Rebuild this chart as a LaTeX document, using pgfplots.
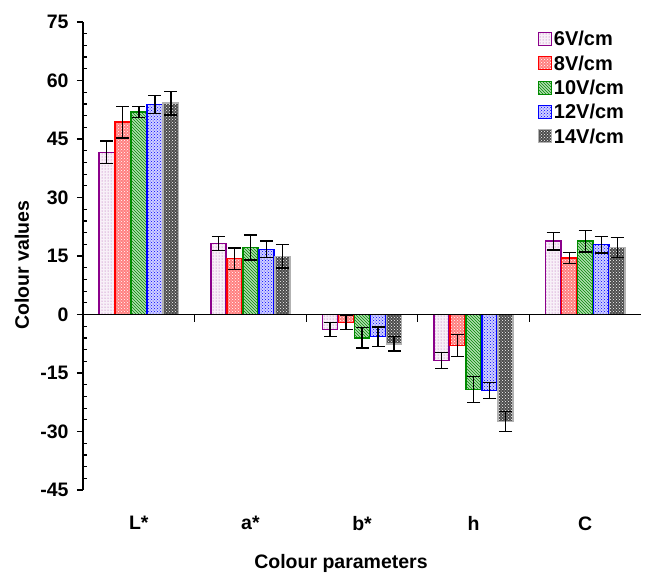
\documentclass[border=0pt]{standalone}
\usepackage{fontspec}
\setmainfont{Liberation Sans}
\usepackage{pgfplots}
\usepackage{pgfplotstable}
\pgfplotsset{compat=1.18}
\usetikzlibrary{patterns}
\newcommand\lab{\fontsize{19.5}{22}\selectfont\bfseries}
\newcommand\leg{\fontsize{20}{22}\selectfont\bfseries}
\definecolor{cpurple}{HTML}{8B008B}
\definecolor{cgreen}{HTML}{008A00}

\pgfplotstableread{
x y e
0 41.6 2.9
1 18.2 1.8
2 -3.9 1.8
3 -11.8 2.1
4 18.8 2.3
}\sixV
\pgfplotstableread{
x y e
0 49.3 4.0
1 14.3 2.8
2 -2.0 1.9
3 -7.9 2.8
4 14.5 1.4
}\eightV
\pgfplotstableread{
x y e
0 51.9 1.4
1 17.2 3.2
2 -6.0 2.6
3 -19.2 3.3
4 18.8 2.8
}\tenV
\pgfplotstableread{
x y e
0 53.8 2.3
1 16.7 2.1
2 -5.7 2.5
3 -19.5 2.0
4 17.9 2.1
}\twelveV
\pgfplotstableread{
x y e
0 54.2 3.0
1 14.9 3.0
2 -7.5 1.9
3 -27.4 2.6
4 17.2 2.6
}\fourteenV

\begin{document}
\begin{tikzpicture}
\path[use as bounding box] (-83pt,-84pt) rectangle (567pt,490pt);
\begin{axis}[
  at={(0pt,0pt)}, anchor=south west,
  scale only axis, width=558pt, height=468pt,
  ybar=0.8pt, bar width=15.2pt,
  xmin=-0.5, xmax=4.5, ymin=-45, ymax=75,
  axis y line=left, axis x line=bottom,
  axis line style={-, line width=1.2pt},
  x axis line style={draw=none},
  xtick={0,1,2,3,4}, xticklabels={L*,a*,b*,h,C},
  xtick style={draw=none},
  xticklabel style={yshift=-17pt},
  ytick={-45,-30,...,75},
  minor y tick num=4,
  tick align=outside,
  major tick length=6pt, minor tick length=-4pt,
  every tick/.style={black, line width=1.2pt},
  /pgf/number format/assume math mode=true,
  tick label style={font=\lab},
  yticklabel style={xshift=-5pt},
  legend cell align=left,
  legend style={at={(0.815,0.985)}, anchor=north west, draw=none, fill=none,
    font=\leg, row sep=4.4pt, inner sep=0pt},
  legend image code/.code={\draw[#1, line width=1pt] (0pt,-6pt) rectangle (13pt,7pt);},
  error bars/y dir=both, error bars/y explicit,
  error bars/error bar style={black, line width=1.4pt},
  error bars/error mark options={rotate=90, mark size=6.5pt, line width=1.4pt, black},
]
\addplot[draw=cpurple, line width=1.5pt, fill=cpurple!6, postaction={pattern=dots, pattern color=cpurple!70}]
  table[x=x, y=y, y error=e] {\sixV};
\addplot[draw=red, line width=1.5pt, fill=red!50, postaction={pattern=crosshatch dots, pattern color=white}]
  table[x=x, y=y, y error=e] {\eightV};
\addplot[draw=cgreen, line width=1.5pt, fill=cgreen!30, postaction={pattern=north west lines, pattern color=cgreen}]
  table[x=x, y=y, y error=e] {\tenV};
\addplot[draw=blue, line width=1.5pt, fill=blue!18, postaction={pattern=crosshatch dots, pattern color=blue}]
  table[x=x, y=y, y error=e] {\twelveV};
\addplot[draw=gray!60, line width=1.5pt, fill=black!70, postaction={pattern=crosshatch dots, pattern color=white}]
  table[x=x, y=y, y error=e] {\fourteenV};
\legend{6V/cm,8V/cm,10V/cm,12V/cm,14V/cm}
\draw[black, line width=1.5pt] ([xshift=-6pt]axis cs:-0.5,0) -- (axis cs:4.5,0);
\pgfplotsinvokeforeach{0.5,1.5,2.5,3.5}{\draw[black, line width=1.2pt] (axis cs:#1,0) -- ([yshift=-7pt]axis cs:#1,0);}
\end{axis}
\node[font=\lab] at (258pt,-73pt) {Colour parameters};
\node[font=\lab, rotate=90] at (-61pt,225pt) {Colour values};
\end{tikzpicture}
\end{document}
